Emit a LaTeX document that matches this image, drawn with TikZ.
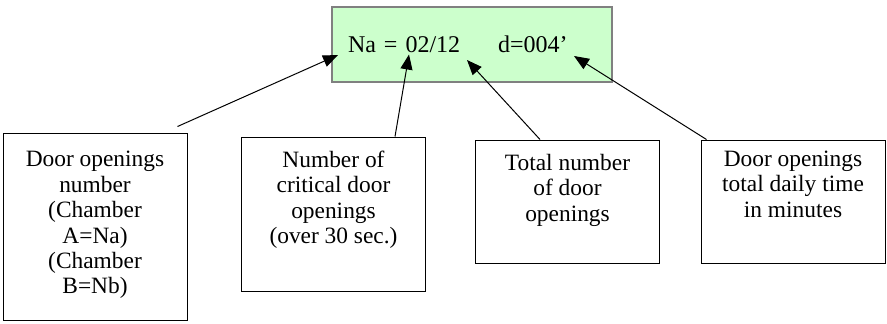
\documentclass[tikz,border=0pt]{standalone}
\usepackage{fontspec}
\setmainfont{Liberation Serif}
\usetikzlibrary{arrows.meta}
\definecolor{valfill}{RGB}{204,255,204}
\definecolor{valedge}{RGB}{128,128,128}
% fixed-height box text, pushed to the top
\newcommand{\notetext}[3]{\parbox[c][#1][t]{92pt}{\centering\vspace*{#2}#3}}
\tikzset{
  note/.style={
    draw=black, line width=0.5pt, inner sep=0pt,
    font=\fontsize{11.7}{12.7}\selectfont
  },
  val/.style={
    draw=valedge, fill=valfill, line width=1pt, inner xsep=8pt, inner ysep=0pt,
    minimum height=37.5pt, text width=124pt, align=left,
    font=\fontsize{12}{14}\selectfont
  },
  ptr/.style={-{Triangle[length=7.5pt,width=6pt]}, draw=black, line width=0.5pt}
}
\begin{document}
\begin{tikzpicture}[x=0.5pt,y=-0.5pt]
  % pixel grid, origin top left
  \useasboundingbox (0,0) rectangle (887,323);
  \node[val] (val) at (472,44.5) {Na = 02/12\hspace{19pt}d=004’};
  \coordinate (naTip) at ([shift={(7,10.5)}]val.west);
  \coordinate (critTip) at ([shift={(78,10)}]val.west);
  \coordinate (totTip) at ([shift={(136,15.5)}]val.west);
  \coordinate (timeTip) at ([shift={(243,11.5)}]val.west);

  \node[note] (openings) at (95,226.5)
    {\notetext{93.5pt}{9.2pt}{Door openings\\number\\(Chamber\\A=Na)\\(Chamber\\B=Nb)}};
  \node[note] (critical) at (333.5,214)
    {\notetext{77pt}{7pt}{Number of\\critical door\\openings\\(over 30 sec.)}};
  \node[note] (total) at (567.5,201.5)
    {\notetext{61.5pt}{7pt}{Total number\\of door\\openings}};
  \node[note] (daily) at (793,201.5)
    {\notetext{61.5pt}{5.5pt}{Door openings\\total daily time\\in minutes}};

  \draw[ptr] ([shift={(-10,-6)}]openings.north east) -- (naTip);
  \draw[ptr] ([shift={(61.5,0)}]critical.north) -- (critTip);
  \draw[ptr] ([shift={(-27.5,0)}]total.north) -- (totTip);
  \draw[ptr] ([shift={(6,0)}]daily.north west) -- (timeTip);
\end{tikzpicture}
\end{document}
